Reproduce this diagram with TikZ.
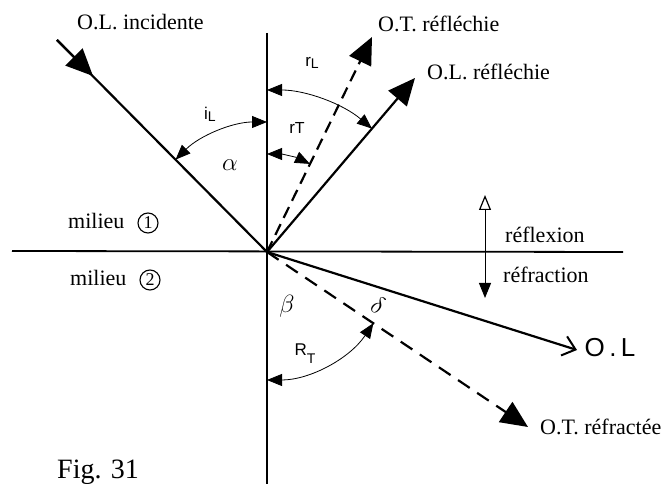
\documentclass[tikz,border=0pt]{standalone}
\usepackage{fontspec}
\setmainfont{Liberation Serif}
\setsansfont{Liberation Sans}
\usetikzlibrary{arrows.meta}
\begin{document}
\begin{tikzpicture}[x=1pt,y=1pt,
  ray/.style={line width=2.2pt},
  tray/.style={line width=2.2pt, dash pattern=on 12pt off 7pt},
  bigtip/.style={-{Triangle[length=27pt,width=24pt]}},
  angarc/.style={line width=0.8pt,{Triangle[length=15pt,width=12pt]}-{Triangle[length=15pt,width=12pt]}},
  lbl/.style={font=\fontsize{22}{26}\selectfont, inner sep=0pt, anchor=base west},
  circnum/.style={circle, draw, line width=1.1pt, minimum size=20pt, inner sep=0pt, font=\fontsize{18}{20}\selectfont},
  hand/.style={font=\sffamily\fontsize{17}{18}\selectfont, inner sep=0pt},
  greek/.style={font=\fontsize{26}{28}\selectfont, inner sep=0pt}
]
\useasboundingbox (0,0) rectangle (669,484);
% reference points
\coordinate (O) at (267,232);
\coordinate (NT) at (267,451);
\coordinate (NB) at (267,-2);
\coordinate (HL) at (12,233);
\coordinate (HR) at (623,232);
\coordinate (I) at (57,444);
\coordinate (Itip) at (93,408);
\coordinate (ROL) at (415,406);
\coordinate (ROT) at (372,447);
\coordinate (TOL) at (577,134);
\coordinate (TOT) at (528,57);
\coordinate (DAt) at (485,289);
\coordinate (DAb) at (485,186);

% normal and interface
\draw[line width=1.4pt] (NT) -- (NB);
\draw[line width=1.8pt] (HL) -- (HR);

% incident ray
\draw[ray] (I) -- (O);
\draw[ray,bigtip] (I) -- (Itip);
% reflected rays
\draw[ray,bigtip] (O) -- (ROL);
\draw[tray,bigtip] (O) -- (ROT);
% refracted rays
\draw[ray,-{Straight Barb[length=12pt,width=20pt,line width=2pt]}] (O) -- (TOL);
\draw[tray,dash pattern=on 14pt off 9pt,bigtip] (O) -- (TOT);

% angle arcs
\draw[angarc] (O) ++(90:130) arc[start angle=90, end angle=134.7, radius=130];
\draw[angarc] (O) ++(90:162) arc[start angle=90, end angle=49.6, radius=162];
\draw[angarc] (O) ++(90:98) arc[start angle=90, end angle=64, radius=98];
\draw[angarc] (O) ++(-90:128) arc[start angle=-90, end angle=-33.8, radius=128];

% reflexion / refraction double arrow
\draw[line width=1pt,{Triangle[open,length=15pt,width=12pt,line width=1.2pt]}-{Triangle[length=15pt,width=12pt]}] (DAt) -- (DAb);

% texts
\node[lbl] (tinc) at (77,454) {O.L. incidente};
\node[lbl] (trot) at (378,452) {O.T. réfléchie};
\node[lbl] (trol) at (427,404) {O.L. réfléchie};
\node[lbl] (tm1) at (68,255) {milieu};
\node[circnum] (c1) at (148,261) {1};
\node[lbl] (tm2) at (70,198) {milieu};
\node[circnum] (c2) at (150,204) {2};
\node[lbl] (trefl) at (505,241) {réflexion};
\node[lbl] (trefr) at (503,201) {réfraction};
\node[lbl] (ttot) at (540,49) {O.T. réfractée};
\node[lbl,font=\fontsize{28}{30}\selectfont] (tfig) at (57,5) {Fig. 31};

% handwritten labels
\node[hand] (liL) at (210,370) {i\raisebox{-2pt}{\fontsize{14}{15}\selectfont L}};
\node[hand] (lrL) at (312,421) {r\raisebox{-2pt}{\fontsize{14}{15}\selectfont L}};
\node[hand] (lrT) at (297,356) {r\fontsize{16}{17}\selectfont T};
\node[hand] (lRT) at (305,130) {R\raisebox{-8pt}{\fontsize{14}{15}\selectfont T}};
\node[greek] (lal) at (230,319) {$\alpha$};
\node[greek] (lbe) at (287,178) {$\beta$};
\node[greek,rotate=-25] (lde) at (378,179) {$\delta$};
\node[font=\sffamily\fontsize{26}{28}\selectfont, inner sep=0pt] (lOL) at (610,136) {O\,.\,L};
\end{tikzpicture}
\end{document}
